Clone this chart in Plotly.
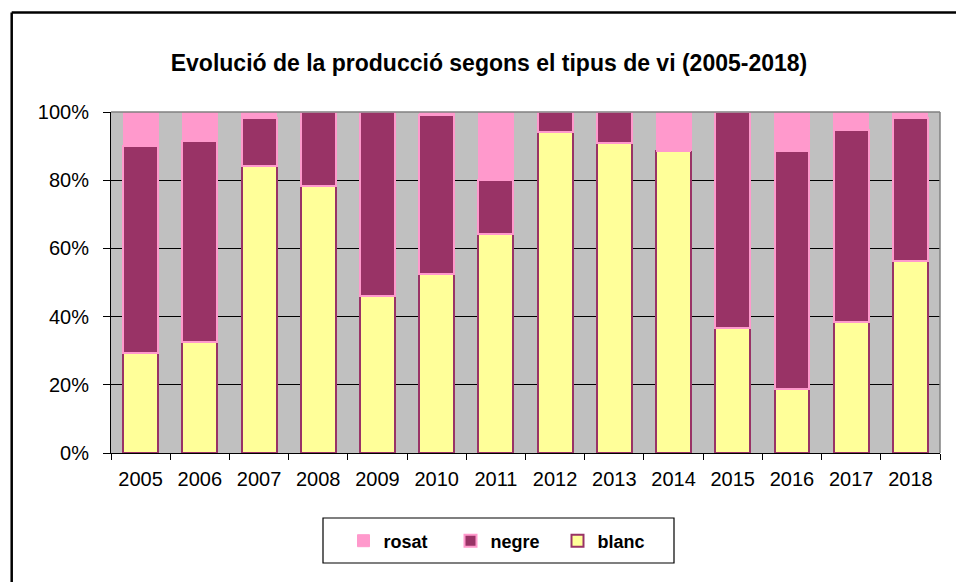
import plotly.graph_objects as go

years = ["2005", "2006", "2007", "2008", "2009", "2010", "2011",
         "2012", "2013", "2014", "2015", "2016", "2017", "2018"]
blanc = [29.2, 32.6, 84.3, 78.4, 45.9, 52.5, 64.1, 94.1, 90.8, 88.6, 36.6, 18.7, 38.3, 56.3]
negre = [60.8, 58.8, 14.0, 21.6, 54.1, 46.7, 15.9, 5.9, 9.2, 0.0, 63.4, 70.0, 56.4, 41.8]
rosat = [10.0, 8.6, 1.7, 0.0, 0.0, 0.8, 20.0, 0.0, 0.0, 11.4, 0.0, 11.3, 5.3, 1.9]
y_ticks = [0, 20, 40, 60, 80, 100]
y_tick_labels = ["0%", "20%", "40%", "60%", "80%", "100%"]

FONT = "Liberation Sans, Arial, sans-serif"
W, H = 956, 582
L, R, T, B = 111, 16, 112, 129
PW, PH = W - L - R, H - T - B


def px_x(p):
    return (p - L) / PW


def px_y(p):
    return (H - B - p) / PH


fig = go.Figure()
fig.add_trace(go.Bar(name="blanc", x=years, y=blanc,
                     marker=dict(color="#FFFF99", line=dict(color="#993366", width=2))))
fig.add_trace(go.Bar(name="negre", x=years, y=negre,
                     marker=dict(color="#993366", line=dict(color="#FF99CC", width=2))))
fig.add_trace(go.Bar(name="rosat", x=years, y=rosat,
                     marker=dict(color="#FF99CC", line=dict(color="#FF99CC", width=1))))

shapes = [
    # outer chart frame (left and top visible)
    dict(type="line", xref="paper", yref="paper", x0=px_x(11.7), x1=px_x(11.7),
         y0=px_y(12.5), y1=px_y(590), line=dict(color="black", width=2.5)),
    dict(type="line", xref="paper", yref="paper", x0=px_x(11.7), x1=px_x(960),
         y0=px_y(12.5), y1=px_y(12.5), line=dict(color="black", width=2.5)),
    # plot area border top/right (gray)
    dict(type="line", xref="paper", yref="paper", x0=0, x1=1, y0=1, y1=1,
         line=dict(color="#808080", width=1.5), layer="above"),
    dict(type="line", xref="paper", yref="paper", x0=1, x1=1, y0=0, y1=1,
         line=dict(color="#808080", width=1.5), layer="above"),
    # legend box
    dict(type="rect", xref="paper", yref="paper", x0=px_x(323), x1=px_x(674),
         y0=px_y(563), y1=px_y(518), line=dict(color="black", width=1.2)),
]

fig.update_layout(
    width=W, height=H,
    margin=dict(l=L, r=R, t=T, b=B),
    paper_bgcolor="white",
    plot_bgcolor="#C0C0C0",
    barmode="stack",
    bargap=0.41,
    font=dict(family=FONT, color="black", size=20),
    title=dict(text="<b>Evolució de la producció segons el tipus de vi (2005-2018)</b>",
               x=489 / W, xanchor="center", y=1 - 63 / H, yanchor="middle",
               yref="container", font=dict(size=23, family=FONT, color="black")),
    xaxis=dict(type="category", tickson="boundaries", ticks="outside", ticklen=6,
               tickcolor="black", tickwidth=1, showline=True, linecolor="black",
               linewidth=1, showgrid=False, tickfont=dict(size=20),
               ticklabelstandoff=8),
    yaxis=dict(range=[0, 100], tickmode="array", tickvals=y_ticks, ticktext=y_tick_labels,
               ticks="outside",
               ticklen=7, tickcolor="black", tickwidth=1, showline=True,
               linecolor="black", linewidth=1, showgrid=True, gridcolor="black",
               gridwidth=1, zeroline=False, tickfont=dict(size=20),
               ticklabelstandoff=10),
    legend=dict(orientation="h", traceorder="reversed", x=px_x(504), xanchor="center",
                y=px_y(541), yanchor="middle", bgcolor="rgba(0,0,0,0)",
                font=dict(size=18, family=FONT, weight="bold"),
                entrywidth=62, itemwidth=30),
    shapes=shapes,
    showlegend=True,
)

fig.write_html("out.html", config={"displayModeBar": False},
               post_script="document.body.style.margin='0';document.body.style.overflow='hidden';")
